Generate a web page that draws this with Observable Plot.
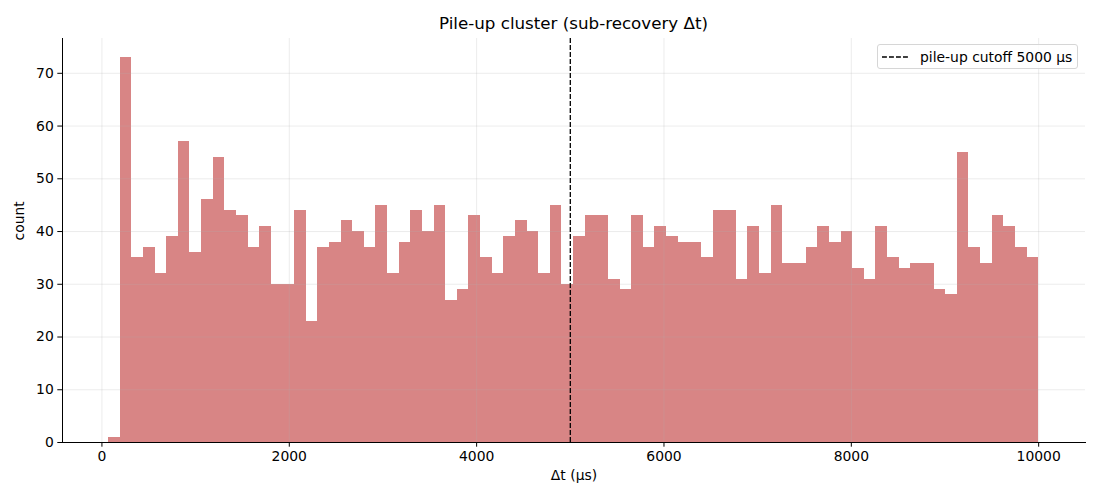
<!DOCTYPE html>
<html>
<head>
<meta charset="utf-8">
<script src="https://cdn.jsdelivr.net/npm/d3@7"></script>
<script src="https://cdn.jsdelivr.net/npm/@observablehq/plot@0.6"></script>
<style>
  body { margin: 0; background: #fff; font-family: "DejaVu Sans", sans-serif; }
  #wrap { position: relative; width: 1100px; height: 500px; }
  #title { height: 24px; padding-top: 14px; line-height: 18px; text-align: center; font-size: 16.7px; color: #000; padding-left: 62px; padding-right: 15px; box-sizing: content-box; }
  #legend { position: absolute; left: 877px; top: 44px; width: 201px; height: 25px; border: 1px solid #d6d6d6; border-radius: 3px; background: rgba(255,255,255,0.8); display: flex; align-items: center; font-size: 13.9px; box-sizing: border-box; color: #000; }
  #legend svg { margin-left: 4px; margin-right: 10px; }
</style>
</head>
<body>
<div id="wrap">
  <div id="title">Pile-up cluster (sub-recovery Δt)</div>
  <div id="chart"></div>
  <div id="legend"><svg width="28" height="10"><line x1="0" y1="5" x2="28" y2="5" stroke="#000" stroke-width="1.3" stroke-dasharray="4.9,2.1"></line></svg><span>pile-up cutoff 5000 μs</span></div>
</div>
<script>
const binStart = 70;
const binEnd = 10000;
const counts = [
  1, 73, 35, 37, 32, 39, 57, 36, 46, 54,
  44, 43, 37, 41, 30, 30, 44, 23, 37, 38,
  42, 40, 37, 45, 32, 38, 44, 40, 45, 27,
  29, 43, 35, 32, 39, 42, 40, 32, 45, 30,
  39, 43, 43, 31, 29, 43, 37, 41, 39, 38,
  38, 35, 44, 44, 31, 41, 32, 45, 34, 34,
  37, 41, 38, 40, 33, 31, 41, 35, 33, 34,
  34, 29, 28, 55, 37, 34, 43, 41, 37, 35
];
const cutoff = 5000;
const xTicks = [0, 2000, 4000, 6000, 8000, 10000];
const yTicks = [0, 10, 20, 30, 40, 50, 60, 70];

const binWidth = (binEnd - binStart) / counts.length;
const bins = counts.map((c, i) => ({x1: binStart + i * binWidth, x2: binStart + (i + 1) * binWidth, count: c}));

const chart = Plot.plot({
  width: 1100,
  height: 462,
  marginTop: 0,
  marginLeft: 62,
  marginRight: 15,
  marginBottom: 58,
  style: {fontFamily: "DejaVu Sans, sans-serif", fontSize: "13.9px", color: "#000", background: "transparent"},
  x: {domain: [-421, 10500], ticks: xTicks},
  y: {domain: [0, 76.6], ticks: yTicks},
  marks: [
    Plot.rectY(bins, {x1: "x1", x2: "x2", y: "count", fill: "#d88585", inset: 0, shapeRendering: "crispEdges"}),
    Plot.gridX(xTicks, {stroke: "#b0b0b0", strokeOpacity: 0.3, strokeWidth: 0.8}),
    Plot.gridY(yTicks, {stroke: "#b0b0b0", strokeOpacity: 0.3, strokeWidth: 0.8}),
    Plot.ruleX([cutoff], {stroke: "#000", strokeWidth: 1.3, strokeDasharray: "4.9,2.1"}),
    Plot.axisX(xTicks, {tickSize: 4.7, tickPadding: 4, stroke: "#000", label: null, tickFormat: d => String(d)}),
    Plot.axisY(yTicks, {tickSize: 4.7, tickPadding: 4, stroke: "#000", label: null}),
    Plot.frame({anchor: "left", stroke: "#000", strokeWidth: 1}),
    Plot.frame({anchor: "bottom", stroke: "#000", strokeWidth: 1}),
    Plot.text(["Δt (μs)"], {frameAnchor: "bottom", dy: 37, fontSize: 13.9, fill: "#000"}),
    Plot.text(["count"], {frameAnchor: "left", dx: -43, rotate: -90, fontSize: 13.9, fill: "#000"})
  ]
});
document.getElementById("chart").appendChild(chart);
</script>
</body>
</html>
